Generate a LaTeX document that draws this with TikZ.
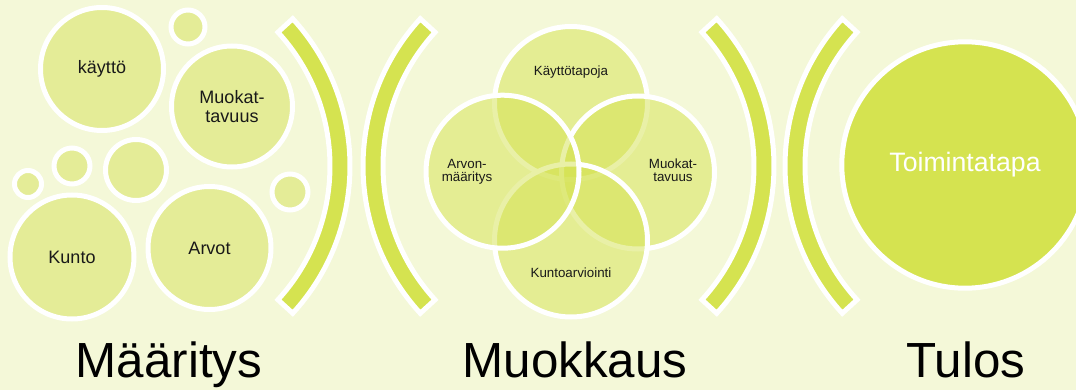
\documentclass[tikz,border=0pt]{standalone}
\usepackage{fontspec}
\setmainfont{Liberation Sans}
\usepackage{tikz}
\definecolor{tausta}{HTML}{F4F8D8}
\definecolor{vaalea}{HTML}{E4EC97}
\definecolor{vihrea}{HTML}{D5E350}
\tikzset{
    x=0.75pt, y=0.75pt, % one unit is one pixel of the reference
    koko/.style={minimum size=#1*1.5pt}, % radius given in pixels
    kupla/.style={circle, draw=white, line width=3.75pt, fill=vaalea, inner sep=0pt, align=center,
        text=black!90, font=\fontsize{13.5}{14.5}\selectfont}, % bubbles of the first group
    venn/.style={circle, draw=white, line width=3.75pt, fill=vihrea, fill opacity=0.5, koko=76.5}, % overlapping circles
    kaari/.style={draw=white, line width=3.75pt, fill=vihrea}, % the bracket bands
}

\begin{document}
\begin{tikzpicture}[
                                pieni/.style={align=center, text=black!90, font=\fontsize{10}{9.8}\selectfont},
                                otsikko/.style={anchor=base, text=black, font=\fontsize{37}{40}\selectfont},
                            ]
                            \fill[tausta] (0,0) rectangle (1076,390);
                            \clip (0,0) rectangle (1076,390);
                            % brackets
                            \foreach \cx/\kulma in {132/0, 581/180, 556/0, 1003/180}
                                \draw[kaari, shift={(\cx,224)}, rotate=\kulma]
                                (-42.5:218) arc[start angle=-42.5, end angle=42.5, radius=218]
                                -- (42.5:198) arc[start angle=42.5, end angle=-42.5, radius=198] -- cycle;

                            % first group
                            \node[kupla, koko=61.5] (kaytto) at (102,321) {käyttö};
                            \node[kupla, koko=60.5] (muokat) at (232,283.5) {Muokat-\\tavuus};
                            \node[kupla, koko=62] (kunto) at (72,133) {Kunto};
                            \node[kupla, koko=61.5] (arvot) at (209.5,142) {Arvot};
                            \foreach \x/\y/\r [count=\i] in {188/363/17, 72/224/18, 136/220/30.5, 28/206/13.5, 290/198/18}
                                \node[kupla, koko=\r] (pieni\i) at (\x,\y) {};

                            % second group
                            \node[venn] (v1) at (571,287) {};
                            \node[venn] (v3) at (638,217.5) {};
                            \node[venn] (v4) at (571,149.5) {};
                            \node[venn] (v2) at (502.5,218.3) {};
                            \node[pieni] (t1) at (571,318) {Käyttötapoja};
                            \node[pieni] (t2) at (467,218) {Arvon-\\määritys};
                            \node[pieni] (t3) at (673,219.3) {Muokat-\\tavuus};
                            \node[pieni] (t4) at (571,117) {Kuntoarviointi};

                            % result
                            \node[circle, draw=white, line width=3.75pt, fill=vihrea, koko=123.2, text=white,
                                font=\fontsize{20}{24}\selectfont] (tulos) at (965,225) {Toimintatapa};

                            % titles
                            \node[otsikko] (o1) at (169,13) {Määritys};
                            \node[otsikko] (o2) at (575,13) {Muokkaus};
                            \node[otsikko] (o3) at (966,13) {Tulos};
                        \end{tikzpicture}
\end{document}
